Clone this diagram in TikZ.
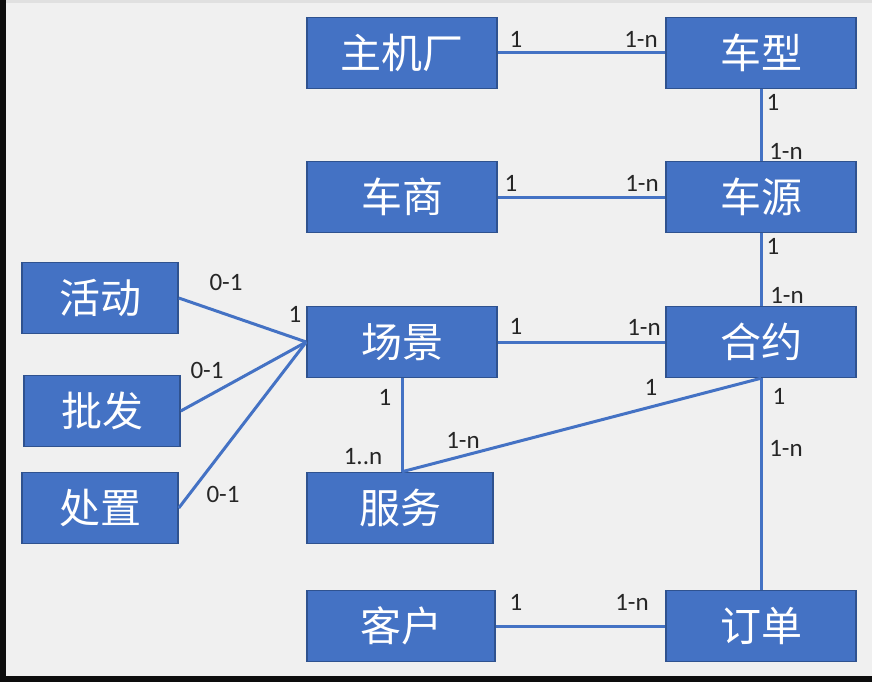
\documentclass[tikz,border=0pt]{standalone}
\usepackage{fontspec}
\setmainfont{Carlito}
\newfontfamily\cjk{Noto Sans CJK SC}
\usetikzlibrary{positioning}
\definecolor{boxblue}{HTML}{4472C4}
\definecolor{boxedge}{HTML}{2F528F}
\definecolor{paper}{HTML}{F0F0F0}

\tikzset{
  entity/.style={draw=boxedge, line width=1.5pt, fill=boxblue, text=white,
    minimum width=190pt, minimum height=71pt, inner sep=0pt,
    font=\cjk\fontsize{41}{41}\selectfont},
  small/.style={entity, minimum width=156pt},
  link/.style={draw=boxblue, line width=3pt},
  card/.style={inner sep=0pt, text=black!85, font=\fontsize{25}{25}\selectfont}
}

\begin{document}
\begin{tikzpicture}[x=1pt, y=-1pt]
  % Screenshot frame
  \fill[paper] (0,0) rectangle (872,682);
  \fill[black!95] (0,0) rectangle (6,682);
  \fill[black!95] (0,676) rectangle (872,682);
  \fill[black!12] (6,0) rectangle (872,3);
  \useasboundingbox (0,0) rectangle (872,682);

  % Entities
  \node[entity] (zhuji) at (402,53) {主机厂};
  \node[entity] (chexing) at (761,53) {车型};
  \node[entity] (cheshang) at (402,197) {车商};
  \node[entity] (cheyuan) at (761,197) {车源};
  \node[small] (huodong) at (100,298) {活动};
  \node[small] (pifa) at (102,411) {批发};
  \node[small] (chuzhi) at (100,508) {处置};
  \node[entity] (changjing) at (402,342) {场景};
  \node[entity] (heyue) at (761,342) {合约};
  \node[entity, minimum width=186pt] (fuwu) at (400,508) {服务};
  \node[entity, minimum width=188pt] (kehu) at (401,626) {客户};
  \node[entity] (dingdan) at (761,626) {订单};
  \coordinate (fuwutop) at (changjing.south |- fuwu.north);

  % Relations
  \draw[link] (zhuji.east) -- (chexing.west);
  \draw[link] (chexing.south) -- (cheyuan.north);
  \draw[link] (cheshang.east) -- (cheyuan.west);
  \draw[link] (cheyuan.south) -- (heyue.north);
  \draw[link] (changjing.east) -- (heyue.west);
  \foreach \src in {huodong, pifa, chuzhi}
    \draw[link] (\src.east) -- (changjing.west);
  \draw[link] (changjing.south) -- (fuwutop);
  \draw[link] (fuwutop) -- (heyue.south);
  \draw[link] (heyue.south) -- (dingdan.north);
  \draw[link] (kehu.east) -- (dingdan.west);

  % Cardinalities
  \node[card] (c1) at (516,39) {1};
  \node[card] (c2) at (641,39) {1-n};
  \node[card] (c3) at (773,102) {1};
  \node[card] (c4) at (786,151) {1-n};
  \node[card] (c5) at (511,183) {1};
  \node[card] (c6) at (642,183) {1-n};
  \node[card] (c7) at (773,246) {1};
  \node[card] (c8) at (787,295) {1-n};
  \node[card] (c9) at (226,282) {0-1};
  \node[card] (c10) at (295,314) {1};
  \node[card] (c11) at (207,370) {0-1};
  \node[card] (c12) at (223,494) {0-1};
  \node[card] (c13) at (516,326) {1};
  \node[card] (c14) at (644,327) {1-n};
  \node[card] (c15) at (385,397) {1};
  \node[card] (c16) at (363,457) {1..n};
  \node[card] (c17) at (651,387) {1};
  \node[card] (c18) at (463,440) {1-n};
  \node[card] (c19) at (779,396) {1};
  \node[card] (c20) at (786,448) {1-n};
  \node[card] (c21) at (516,602) {1};
  \node[card] (c22) at (632,602) {1-n};
\end{tikzpicture}
\end{document}
